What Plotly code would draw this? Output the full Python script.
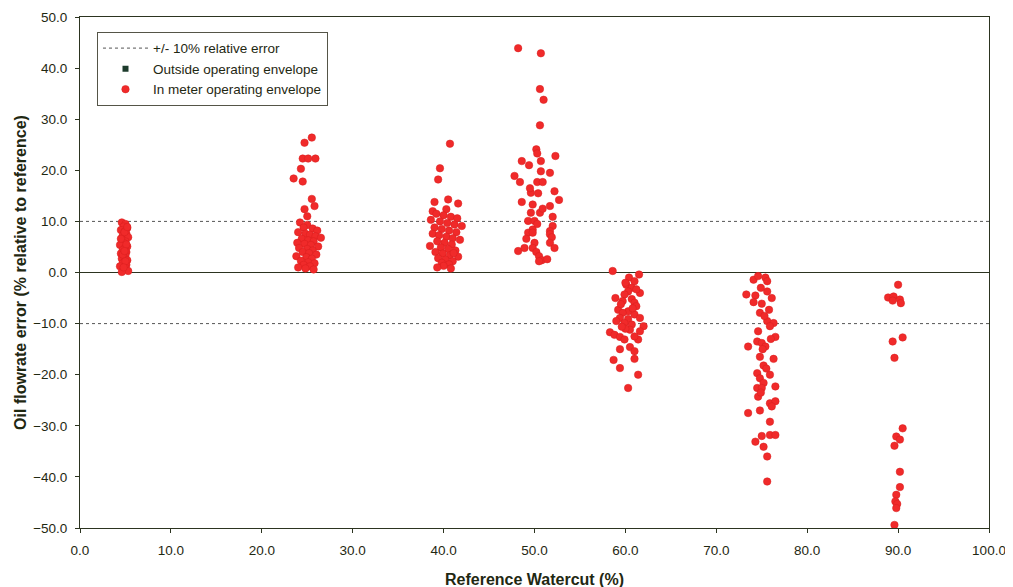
import plotly.graph_objects as go

# ---- data ----
wc_05 = [4.6,5.0,4.8,5.2,4.5,4.9,5.1,4.7,5.3,4.6,5.0,4.8,4.4,5.2,4.9,4.7,5.1,4.5,5.0,4.8,4.6,5.2,4.9,4.7,5.1,4.4,5.0,4.8,5.3,4.6,4.9,5.1,4.7,5.0,4.8,4.5,5.2,4.9]
err_05 = [9.8,9.5,9.0,8.7,8.3,8.0,7.6,7.2,6.9,6.5,6.1,5.8,5.4,5.1,4.7,4.4,4.0,3.7,3.3,3.0,2.7,2.4,2.1,1.8,1.5,1.2,0.9,0.6,0.3,0.1,7.9,5.5,3.5,2.2,1.0,6.6,8.9,4.2]

wc_25 = [25.5,24.7,24.5,25.1,25.9,24.3,23.5,24.5,25.5,25.8,24.7,
         24.2,25.0,24.6,25.6,26.1,24.0,24.8,25.3,25.9,26.5,24.4,25.1,25.7,23.9,24.7,25.4,26.2,24.1,25.0,25.6,24.5,25.2,26.0,23.8,24.9,25.5,24.3,25.1,25.8,24.6,25.3,24.0,24.8,25.7,25.0]
err_25 = [26.4,25.4,22.3,22.3,22.3,20.3,18.4,17.8,14.4,13.0,12.4,
          9.8,9.3,8.8,8.6,8.2,7.9,7.6,7.4,7.1,6.8,6.6,6.3,6.1,5.8,5.6,5.4,5.1,4.8,4.6,4.3,4.0,3.8,3.5,3.2,3.0,2.7,2.3,2.0,1.8,1.5,1.2,1.0,0.8,0.6,11.0]

wc_40 = [40.7,39.6,39.4,39.0,40.5,41.6,40.3,38.8,
         39.2,40.0,40.8,41.5,38.6,39.6,40.4,41.2,42.0,39.0,39.8,40.6,41.4,38.8,39.5,40.3,41.0,41.8,39.3,40.1,40.9,38.5,39.7,40.5,41.3,39.1,39.9,40.7,41.6,39.4,40.2,41.0,39.8,40.6,40.0,39.3,40.8,41.1]
err_40 = [25.2,20.4,18.2,13.8,14.3,13.5,12.4,12.0,
          11.5,11.2,10.9,10.6,10.3,10.0,9.7,9.4,9.1,8.8,8.5,8.2,7.9,7.6,7.3,7.0,6.7,6.4,6.1,5.8,5.5,5.2,4.9,4.6,4.3,4.0,3.7,3.4,3.1,2.8,2.5,2.2,1.9,1.6,1.3,1.0,0.8,3.8]

wc_50 = [48.2,50.7,50.6,51.0,50.6,50.2,50.3,52.3,48.6,49.4,50.7,50.7,51.7,47.8,48.4,50.3,50.9,49.6,50.4,52.2,52.7,48.6,49.8,51.7,49.6,50.6,52.0,49.3,50.0,52.0,49.8,51.7,49.3,49.8,51.7,51.9,49.1,50.0,51.7,49.8,52.2,48.2,48.9,50.2,50.5,50.8,51.4,50.5,50.3,50.9,49.5]
err_50 = [43.9,42.9,35.9,33.8,28.8,24.1,23.3,22.8,21.8,21.0,21.8,19.8,19.5,18.9,17.7,17.7,17.7,15.6,15.5,15.9,14.2,13.8,13.3,13.0,11.7,11.7,10.9,10.1,10.1,9.1,8.4,8.1,7.8,7.8,7.5,6.9,6.6,5.8,5.8,4.8,4.8,4.2,4.8,4.0,3.2,2.4,2.6,2.2,9.5,12.5,16.5]

wc_60 = [58.6,61.5,60.4,61.0,60.1,60.7,60.3,61.6,59.9,58.9,60.7,61.0,59.7,61.2,59.2,60.3,59.7,61.0,59.4,60.3,61.6,59.0,59.9,60.7,62.0,60.5,61.6,58.3,58.8,59.4,59.9,61.4,61.0,59.4,60.5,61.0,58.7,61.0,59.4,61.4,60.3,60.0,61.2,59.5,60.8,60.0,59.6]
err_60 = [0.3,-0.4,-1.0,-1.7,-2.4,-3.0,-3.7,-4.0,-4.3,-5.0,-5.2,-5.9,-5.6,-6.6,-7.3,-7.6,-7.9,-8.2,-8.9,-9.1,-8.9,-9.5,-9.9,-10.2,-10.5,-11.2,-11.5,-11.7,-12.2,-12.6,-13.1,-13.1,-12.5,-15.0,-14.6,-15.4,-17.1,-16.9,-18.7,-20.0,-22.6,-2.0,-3.3,-6.2,-7.0,-11.0,-10.6]

wc_75 = [74.1,74.6,75.4,75.6,73.3,74.3,75.6,76.1,74.1,75.0,75.8,74.8,75.6,76.3,75.9,76.5,74.5,75.0,75.4,73.5,75.1,76.3,74.8,75.2,74.5,74.8,75.9,75.2,74.5,76.5,75.0,74.6,75.9,76.5,76.1,73.5,74.8,75.9,75.0,75.9,76.5,74.3,75.2,75.6,75.6,74.9,75.3,74.6,75.5,74.9,76.0]
err_75 = [-1.4,-0.7,-1.0,-1.7,-4.3,-4.5,-3.7,-5.0,-5.8,-6.1,-7.3,-7.9,-9.5,-9.9,-10.5,-12.6,-13.5,-13.8,-14.5,-14.5,-15.0,-16.9,-16.5,-18.2,-19.7,-20.7,-20.0,-21.6,-22.6,-22.3,-22.6,-24.3,-25.6,-25.2,-26.2,-27.5,-27.0,-29.2,-32.0,-31.8,-31.8,-33.1,-34.1,-36.0,-40.9,-3.0,-8.5,-11.5,-18.8,-23.5,-13.0]

wc_90 = [90.0,88.9,89.5,90.2,89.4,90.3,90.5,89.4,89.6,90.5,89.8,90.2,89.6,90.2,90.2,89.8,89.7,89.9,89.8,89.6]
err_90 = [-2.4,-4.9,-4.7,-5.3,-5.5,-6.0,-12.7,-13.5,-16.7,-30.5,-32.1,-32.7,-33.9,-39.0,-42.0,-43.5,-44.8,-45.3,-46.1,-49.4]

band_x = [0, 100]
band_hi = [10, 10]
band_lo = [-10, -10]

x_ticks = [0, 10, 20, 30, 40, 50, 60, 70, 80, 90, 100]
y_ticks = [-50, -40, -30, -20, -10, 0, 10, 20, 30, 40, 50]

in_x = wc_05 + wc_25 + wc_40 + wc_50 + wc_60 + wc_75 + wc_90
in_y = err_05 + err_25 + err_40 + err_50 + err_60 + err_75 + err_90

FONT = "Liberation Sans, Arial, sans-serif"
TXT = "#1f2812"
AX = "#2c3420"
RED = "#f02a2a"

fig = go.Figure()
fig.add_trace(go.Scatter(x=band_x, y=band_hi, mode="lines", name="+/- 10% relative error",
                         line=dict(color="#555555", width=1, dash="3px,3px"), legendgroup="band"))
fig.add_trace(go.Scatter(x=band_x, y=band_lo, mode="lines", showlegend=False,
                         line=dict(color="#555555", width=1, dash="3px,3px"), legendgroup="band"))
fig.add_trace(go.Scatter(x=[None], y=[None], mode="markers", name="Outside operating envelope",
                         marker=dict(symbol="square", size=6, color="#1d3b2c")))
fig.add_trace(go.Scatter(x=in_x, y=in_y, mode="markers", name="In meter operating envelope",
                         marker=dict(symbol="circle", size=7.5, color=RED,
                                     line=dict(width=0.5, color="#d81e1e"))))

fig.update_layout(
    width=1013, height=587,
    margin=dict(l=72, r=32, t=9, b=67),
    paper_bgcolor="white", plot_bgcolor="white",
    font=dict(family=FONT, size=14, color=TXT),
    showlegend=True,
    legend=dict(x=0.0187, y=0.971, xanchor="left", yanchor="top",
                bgcolor="white", bordercolor="#555548", borderwidth=1,
                font=dict(family=FONT, size=13.5, color=TXT),
                itemwidth=45, tracegroupgap=0),
)
fig.update_xaxes(range=[0, 100], tickvals=x_ticks, tickformat=".1f",
                 showgrid=False, zeroline=False, automargin=False,
                 showline=True, mirror=True, linecolor=AX, linewidth=1,
                 ticks="outside", ticklen=4, tickcolor=AX, ticklabelstandoff=6,
                 tickfont=dict(family=FONT, size=13.5, color=TXT),
                 title=dict(text="<b>Reference Watercut (%)</b>", standoff=16,
                            font=dict(family=FONT, size=16, color=TXT)))
fig.update_yaxes(range=[-50, 50], tickvals=y_ticks, tickformat=".1f",
                 showgrid=False, zeroline=True, zerolinecolor=AX, zerolinewidth=1,
                 automargin=False,
                 showline=True, mirror=True, linecolor=AX, linewidth=1,
                 ticks="outside", ticklen=4, tickcolor=AX, ticklabelstandoff=5,
                 tickfont=dict(family=FONT, size=13.5, color=TXT),
                 title=dict(text="<b>Oil flowrate error (% relative to reference)</b>", standoff=2,
                            font=dict(family=FONT, size=16, color=TXT)))

fig.write_html("out.html")
